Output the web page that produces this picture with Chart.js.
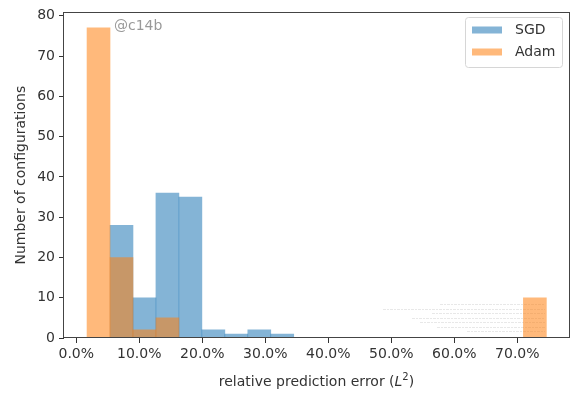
<!DOCTYPE html>
<html>
<head>
<meta charset="utf-8">
<script src="https://cdn.jsdelivr.net/npm/chart.js@4/dist/chart.umd.min.js"></script>
<style>
  html, body { margin: 0; padding: 0; background: #fff; }
  #wrap { width: 571px; height: 394px; position: relative; }
</style>
</head>
<body>
<div id="wrap"><canvas id="c"></canvas></div>
<script>
// Histogram bin edges (relative error, percent) shared by both optimizers
const binEdges = [1.71, 5.35, 9.00, 12.64, 16.29, 19.93, 23.58, 27.22, 30.87, 34.51, 38.16,
                  41.80, 45.45, 49.09, 52.74, 56.38, 60.03, 63.67, 67.32, 70.96, 74.61];
const sgdCounts  = [0, 28, 10, 36, 35, 2, 1, 2, 1, 0, 0, 0, 0, 0, 0, 0, 0, 0, 0, 0];
const adamCounts = [77, 20, 2, 5, 0, 0, 0, 0, 0, 0, 0, 0, 0, 0, 0, 0, 0, 0, 0, 10];
const seriesLabels = ['SGD', 'Adam'];
const xTickValues = [0, 10, 20, 30, 40, 50, 60, 70];
const yTickValues = [0, 10, 20, 30, 40, 50, 60, 70, 80];
const watermark = '@c14b';
const xTitleParts = ['relative prediction error (', 'L', '2', ')'];
const yTitle = 'Number of configurations';

const FONT = '"DejaVu Sans", "Liberation Sans", sans-serif';
const INK = '#333';
const blue = 'rgba(31,119,180,0.55)';
const orange = 'rgba(255,127,14,0.55)';

function toBars(counts) {
  return counts.map((c, i) => ({ x: (binEdges[i] + binEdges[i + 1]) / 2, y: c }));
}

// Frame, titles, annotation text and boxed legend
const decorations = {
  id: 'decorations',
  beforeDatasetsDraw(chart) {
    const ctx = chart.ctx;
    ctx.save();
    // faint small print in the lower right corner
    ctx.strokeStyle = 'rgba(150,150,150,0.22)';
    ctx.lineWidth = 1;
    ctx.setLineDash([3, 1, 2, 1]);
    [[440, 304], [383, 309], [432, 313], [412, 318], [420, 322], [437, 327], [467, 331]].forEach(([x1, y]) => {
      ctx.beginPath(); ctx.moveTo(x1, y + 0.5); ctx.lineTo(545, y + 0.5); ctx.stroke();
    });
    ctx.restore();
  },
  afterDraw(chart) {
    const { ctx, chartArea: a } = chart;
    ctx.save();
    // axes frame
    ctx.strokeStyle = '#444';
    ctx.lineWidth = 1;
    ctx.strokeRect(Math.round(a.left) - 0.5, Math.round(a.top) + 0.5,
                   Math.round(a.right - a.left) + 1, Math.round(a.bottom - a.top) - 1);

    // watermark
    ctx.fillStyle = '#999';
    ctx.font = '14px ' + FONT;
    ctx.textBaseline = 'alphabetic';
    ctx.textAlign = 'left';
    ctx.fillText(watermark, 114, 30);

    // y title
    ctx.fillStyle = INK;
    ctx.save();
    ctx.translate(21, (a.top + a.bottom) / 2);
    ctx.rotate(-Math.PI / 2);
    ctx.textAlign = 'center';
    ctx.textBaseline = 'middle';
    ctx.font = '14px ' + FONT;
    ctx.fillText(yTitle, 0, 0);
    ctx.restore();

    // x title with italic L and superscript 2
    const fonts = ['14px ' + FONT, 'oblique 14px ' + FONT, '10px ' + FONT, '14px ' + FONT];
    const lifts = [0, 0, 6, 0];
    let widths = xTitleParts.map((t, i) => { ctx.font = fonts[i]; return ctx.measureText(t).width; });
    const total = widths.reduce((s, w) => s + w, 0);
    let x = (a.left + a.right) / 2 - total / 2;
    const base = 386;
    ctx.textAlign = 'left';
    ctx.textBaseline = 'alphabetic';
    xTitleParts.forEach((t, i) => {
      ctx.font = fonts[i];
      ctx.fillText(t, x, base - lifts[i]);
      x += widths[i];
    });

    // legend
    const bx = 465.5, by = 17.5, bw = 97, bh = 50, r = 3;
    ctx.beginPath();
    ctx.moveTo(bx + r, by);
    ctx.arcTo(bx + bw, by, bx + bw, by + bh, r);
    ctx.arcTo(bx + bw, by + bh, bx, by + bh, r);
    ctx.arcTo(bx, by + bh, bx, by, r);
    ctx.arcTo(bx, by, bx + bw, by, r);
    ctx.closePath();
    ctx.fillStyle = 'rgba(255,255,255,0.8)';
    ctx.fill();
    ctx.strokeStyle = '#d6d6d6';
    ctx.stroke();
    ctx.font = '14px ' + FONT;
    ctx.textBaseline = 'middle';
    chart.data.datasets.forEach((ds, i) => {
      const cy = 30 + i * 22;
      ctx.fillStyle = ds.backgroundColor;
      ctx.fillRect(472, cy - 3.5, 30, 7);
      ctx.fillStyle = INK;
      ctx.fillText(ds.label, 515, cy);
    });
    ctx.restore();
  }
};

new Chart(document.getElementById('c'), {
  type: 'bar',
  data: {
    datasets: [
      { label: seriesLabels[0], data: toBars(sgdCounts), backgroundColor: blue, order: 1 },
      { label: seriesLabels[1], data: toBars(adamCounts), backgroundColor: orange, order: 0 }
    ]
  },
  options: {
    responsive: true,
    maintainAspectRatio: false,
    animation: false,
    devicePixelRatio: 1,
    grouped: false,
    barPercentage: 1,
    categoryPercentage: 1,
    borderWidth: 0,
    layout: { padding: { top: 10, right: 2, left: 0, bottom: 0 } },
    plugins: { legend: { display: false }, tooltip: { enabled: false } },
    scales: {
      x: {
        type: 'linear',
        min: -1.95,
        max: 78.2,
        offset: false,
        border: { display: false },
        grid: { drawOnChartArea: false, drawTicks: true, tickLength: 5, color: INK, offset: false },
        ticks: {
          color: INK, font: { family: FONT, size: 14 }, padding: 3,
          autoSkip: false, maxRotation: 0,
          callback: v => v.toFixed(1) + '%'
        },
        afterBuildTicks: s => { s.ticks = xTickValues.map(v => ({ value: v })); },
        afterFit: s => { s.height = 56; }
      },
      y: {
        min: 0,
        max: 80.85,
        border: { display: false },
        grid: { drawOnChartArea: false, drawTicks: true, tickLength: 5, color: INK },
        ticks: { color: INK, font: { family: FONT, size: 14 }, padding: 4 },
        afterBuildTicks: s => { s.ticks = yTickValues.map(v => ({ value: v })); },
        afterFit: s => { s.width = 64; }
      }
    }
  },
  plugins: [decorations]
});
</script>
</body>
</html>
